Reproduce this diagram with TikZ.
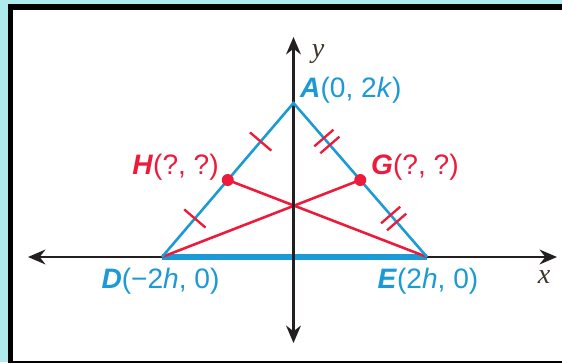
\documentclass[tikz,border=0pt]{standalone}
\usepackage{fontspec}
\usetikzlibrary{arrows.meta,calc}
\newfontfamily\labelfont{Liberation Sans}
\newfontfamily\axisfont{Liberation Serif}
\definecolor{bgCyan}{HTML}{AFEBEC}
\definecolor{sideBlue}{HTML}{1B9AD6}
\definecolor{medRed}{HTML}{ED1B3B}
\definecolor{axisInk}{HTML}{231F20}
\definecolor{axisLbl}{HTML}{3F3526}
\tikzset{
  axis arrow/.style={{Stealth[length=5.2mm,width=4.4mm]}-{Stealth[length=5.2mm,width=4.4mm]},
    draw=axisInk,line width=2.4pt},
  side line/.style={draw=sideBlue,line width=2.2pt},
  base line/.style={draw=sideBlue,line width=5pt},
  median line/.style={draw=medRed,line width=2.2pt},
  tick mark/.style={draw=medRed,line width=2pt},
  mid dot/.style={circle,fill=medRed,inner sep=0pt,minimum size=0.36cm},
  vertex label/.style={inner sep=0pt,font=\labelfont\fontsize{24}{26}\selectfont},
  axis label/.style={inner sep=0pt,text=axisLbl,font=\axisfont\itshape\fontsize{24}{26}\selectfont}
}
\begin{document}
\begin{tikzpicture}[x=0.03cm,y=-0.03cm]
    \useasboundingbox (0,0) rectangle (562,362);
    \clip (0,0) rectangle (562,362);
    \fill[bgCyan] (0,0) rectangle (562,362);
    \draw[fill=white,draw=black,line width=4.3pt] (10.5,7) rectangle (580,364);
    % axes
    \coordinate (O) at (293.5,257);
    \coordinate (xl) at (28,257);
    \coordinate (xr) at (557,257);
    \coordinate (yt) at (293.5,37);
    \coordinate (yb) at (293.5,343);
    % triangle
    \coordinate (A) at (293.5,103);
    \coordinate (D) at (162,257);
    \coordinate (E) at (427,257);
    \coordinate (H) at ($(A)!0.5!(D)$);
    \coordinate (G) at ($(A)!0.5!(E)$);
    \draw[axis arrow] (xl) -- (xr);
    \draw[base line] (D) -- (E);
    \draw[median line] (H) -- (E);
    \draw[median line] (G) -- (D);
    \draw[axis arrow] (yb) -- (yt);
    \draw[side line,line join=miter] (D) -- (A) -- (E);
    % congruence marks
    \foreach \p/\q in {A/H,H/D}
      \draw[tick mark] ($(\p)!0.5!(\q)!0.42cm!90:(\q)$) -- ($(\p)!0.5!(\q)!0.42cm!-90:(\q)$);
    \foreach \p/\q in {A/G,G/E}
      \foreach \t in {0.455,0.545}
        \draw[tick mark] ($(\p)!\t!(\q)!0.38cm!90:(\q)$) -- ($(\p)!\t!(\q)!0.38cm!-90:(\q)$);
    \node[mid dot] (Hdot) at (H) {};
    \node[mid dot] (Gdot) at (G) {};
    % labels
    \node[vertex label,text=sideBlue,anchor=west] (Alab) at (300,90)
      {\textbf{\textit{A}}(0, 2\textit{k})};
    \node[vertex label,text=medRed,anchor=east] (Hlab) at (219,167)
      {\textbf{\textit{H}}(?, ?)};
    \node[vertex label,text=medRed,anchor=west] (Glab) at (371,167)
      {\textbf{\textit{G}}(?, ?)};
    \node[vertex label,text=sideBlue] (Dlab) at (160.5,281.5)
      {\textbf{\textit{D}}(−2\textit{h}, 0)};
    \node[vertex label,text=sideBlue] (Elab) at (428,281.5)
      {\textbf{\textit{E}}(2\textit{h}, 0)};
    \node[axis label] (xlab) at (544,277) {x};
    \node[axis label] (ylab) at (318,54) {y};
  \end{tikzpicture}
\end{document}
